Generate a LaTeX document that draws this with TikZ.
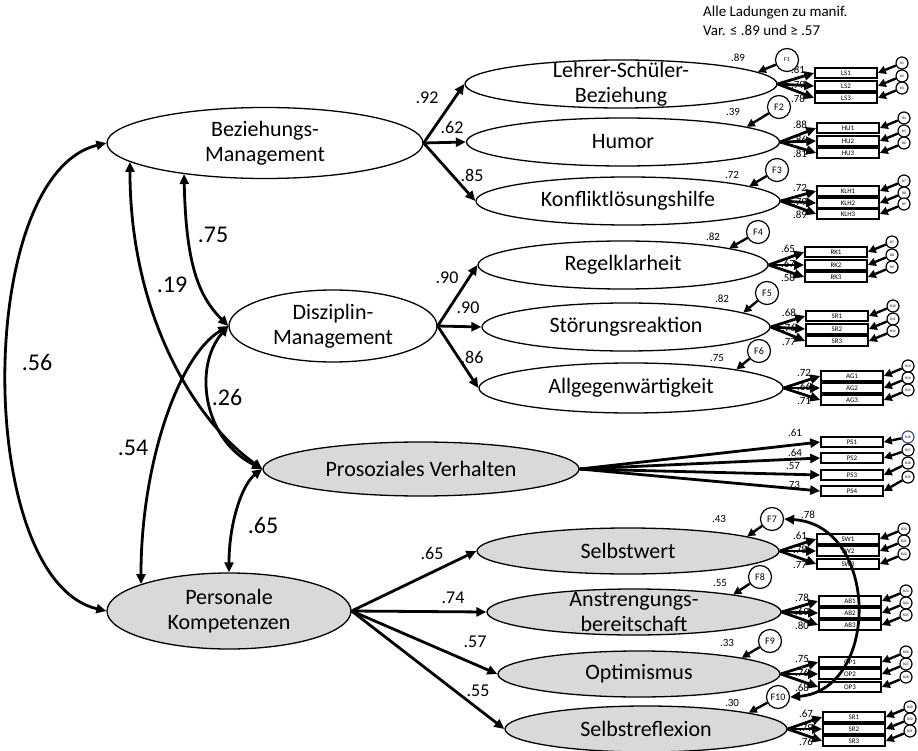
\documentclass[tikz,border=0pt]{standalone}
\usepackage{fontspec}
\setmainfont{Carlito}
\usetikzlibrary{shapes.geometric,arrows.meta}

\definecolor{latfill}{RGB}{217,217,217}
\definecolor{selblue}{RGB}{47,85,151}

\tikzset{
  lat/.style={ellipse,draw,line width=1.3pt,inner sep=0pt},
  lattext/.style={align=center,inner sep=0pt,font=\fontsize{22}{25}\selectfont},
  ind/.style={draw,fill=white,line width=1.6pt,minimum width=62pt,minimum height=10.5pt,inner sep=0pt,font=\fontsize{7}{7}\selectfont},
  res/.style={circle,draw,fill=white,line width=1.2pt,minimum size=12pt,inner sep=0pt,font=\fontsize{3.6}{4}\selectfont},
  dist/.style={circle,draw,fill=white,line width=1.2pt,minimum size=23pt,inner sep=0pt,font=\fontsize{10}{10}\selectfont},
  ld/.style={-{Triangle[length=10pt,width=9pt]},line width=2.8pt},
  cov/.style={{Triangle[length=10pt,width=9pt]}-{Triangle[length=10pt,width=9pt]},line width=2.8pt},
  sm/.style={-{Triangle[length=8pt,width=8pt]},line width=2.4pt},
  corlab/.style={font=\fontsize{24}{24}\selectfont},
  pathlab/.style={font=\fontsize{18}{18}\selectfont},
  loadlab/.style={font=\fontsize{11}{11}\selectfont},
}

\begin{document}
\begin{tikzpicture}[x=1pt,y=-1pt]
  \useasboundingbox (0,0) rectangle (918,751);

  % latente Variablen
  \begin{scope}[every node/.style={lat}]
    \node[minimum width=316pt,minimum height=71pt] (bm) at (265,143) {};
    \node[minimum width=208pt,minimum height=72pt] (dm) at (333,326) {};
    \node[minimum width=312pt,minimum height=48pt] (lsb) at (621,84) {};
    \node[minimum width=313pt,minimum height=48pt] (humor) at (623,142) {};
    \node[minimum width=304pt,minimum height=48pt] (klhilfe) at (628,201) {};
    \node[minimum width=290pt,minimum height=48pt] (regel) at (623,265) {};
    \node[minimum width=288pt,minimum height=48pt] (stoer) at (626,327) {};
    \node[minimum width=304pt,minimum height=50pt] (allg) at (631,388) {};
  \end{scope}

  \begin{scope}[every node/.style={lat,fill=latfill}]
    \node[minimum width=316pt,minimum height=54pt] (pv) at (421,469) {};
    \node[minimum width=244pt,minimum height=76pt] (pk) at (229,611) {};
    \node[minimum width=302pt,minimum height=46pt] (selbstw) at (628,551) {};
    \node[minimum width=294pt,minimum height=46pt] (anstr) at (634,612) {};
    \node[minimum width=282pt,minimum height=46pt] (optim) at (639,674) {};
    \node[minimum width=282pt,minimum height=46pt] (selbstr) at (646,729) {};
  \end{scope}

  \begin{scope}[every node/.style={lattext}]
    \node (bm-t) at (bm) {Beziehungs-\\Management};
    \node (dm-t) at (dm) {Disziplin-\\Management};
    \node (pv-t) at (pv) {Prosoziales Verhalten};
    \node (pk-t) at (pk) {Personale\\Kompetenzen};
    \node (lsb-t) at (lsb) {Lehrer-Schüler-\\Beziehung};
    \node (humor-t) at (humor) {Humor};
    \node (klhilfe-t) at (klhilfe) {Konfliktlösungshilfe};
    \node (regel-t) at (regel) {Regelklarheit};
    \node (stoer-t) at (stoer) {Störungsreaktion};
    \node (allg-t) at (allg) {Allgegenwärtigkeit};
    \node (selbstw-t) at (selbstw) {Selbstwert};
    \node (anstr-t) at (anstr) {Anstrengungs-\\bereitschaft};
    \node (optim-t) at (optim) {Optimismus};
    \node (selbstr-t) at (selbstr) {Selbstreflexion};
  \end{scope}

  \node[anchor=north west,align=left,inner sep=0pt,font=\fontsize{15}{19}\selectfont] (note) at (703,6) {Alle Ladungen zu manif.\\Var. ≤ .89 und ≥ .57};

  % Pfade zweiter Ordnung
  \draw[ld] (bm.east) -- (lsb.west);
  \draw[ld] (bm.east) -- (humor.west);
  \draw[ld] (bm.east) -- (klhilfe.west);
  \draw[ld] (dm.east) -- (regel.west);
  \draw[ld] (dm.east) -- (stoer.west);
  \draw[ld] (dm.east) -- (allg.west);
  \draw[ld] (pk.east) -- (selbstw.west);
  \draw[ld] (pk.east) -- (anstr.west);
  \draw[ld] (pk.east) -- (optim.west);
  \draw[ld] (pk.east) -- (selbstr.west);

  \begin{scope}[every node/.style={pathlab}]
    \node (p1) at (427,98) {.92};
    \node (p2) at (452,127) {.62};
    \node (p3) at (472,175) {.85};
    \node (p4) at (447,278) {.90};
    \node (p5) at (468,308) {.90};
    \node (p6) at (472,357) {.86};
    \node (p7) at (432,553) {.65};
    \node (p8) at (453,598) {.74};
    \node (p9) at (475,642) {.57};
    \node (p10) at (478,691) {.55};
  \end{scope}

  % Korrelationen
  \draw[cov] (bm.west) .. controls (-26,175) and (-26,580) .. (pk.west);
  \draw[cov] (bm.201) .. controls +(2,90) and +(-30,-30) .. (dm.west);
  \draw[cov] (bm.188) .. controls +(0,150) and +(-70,-50) .. (pv.west);
  \draw[cov] (dm.west) .. controls +(-35,40) and +(-60,-30) .. (pv.west);
  \draw[cov] (dm.west) .. controls +(-50,30) and +(0,-120) .. (pk.163);
  \draw[cov] (pv.west) .. controls +(-20,15) and +(0,-50) .. (pk.north);

  \begin{scope}[every node/.style={corlab}]
    \node (c1) at (37,362) {.56};
    \node (c2) at (213,235) {.75};
    \node (c3) at (172,285) {.19};
    \node (c4) at (227,397) {.26};
    \node (c5) at (133,448) {.54};
    \node (c6) at (263,525) {.65};
  \end{scope}

  % manifeste Variablen
  \foreach \grp/\txt/\lat/\bx/\ya/\yb/\yc/\rn/\ka/\kb/\kc in {
      ls/LS/lsb/815/73/86/98/1/.81/.79/.78,
      hu/HU/humor/817/128/141/153/4/.88/.86/.81,
      klh/KLH/klhilfe/817/191/203/214/7/.72/.79/.89,
      rk/RK/regel/805/252/265/277/7/.65/.67/.58,
      sr/SR/stoer/806/316/329/341/10/.68/.76/.77,
      ag/AG/allg/821/376/388/400/13/.72/.66/.71,
      sw/SW/selbstw/817/539/551/564/20/.61/.78/.77,
      ab/AB/anstr/819/601/613/625/23/.78/.69/.80,
      op/OP/optim/819/662/674/687/26/.75/.76/.68,
      sf/SR/selbstr/823/717/729/741/29/.67/.79/.76}{
    \pgfmathtruncatemacro{\rnb}{\rn+1}
    \pgfmathtruncatemacro{\rnc}{\rn+2}
    \node[loadlab] (\grp-k1) at (\bx-17,\ya-3) {\ka};
    \node[loadlab] (\grp-k2) at (\bx-17,\yb-1) {\kb};
    \node[loadlab] (\grp-k3) at (\bx-17,\yc+1) {\kc};
    \node[ind] (\grp1) at (\bx+31,\ya) {\txt1};
    \node[ind] (\grp2) at (\bx+31,\yb) {\txt2};
    \node[ind] (\grp3) at (\bx+31,\yc) {\txt3};
    \node[res] (\grp-r1) at (\bx+87,\ya-10) {R\rn};
    \node[res] (\grp-r2) at (\bx+87,\yb-10) {R\rnb};
    \node[res] (\grp-r3) at (\bx+87,\yc-10) {R\rnc};
    \draw[ld] (\lat.east) -- (\grp1.west);
    \draw[ld] (\lat.east) -- (\grp2.west);
    \draw[ld] (\lat.east) -- (\grp3.west);
    \draw[sm] (\grp-r1) -- (\grp1.east);
    \draw[sm] (\grp-r2) -- (\grp2.east);
    \draw[sm] (\grp-r3) -- (\grp3.east);
  }

  % Prosoziales Verhalten
  \node[loadlab] (ps-k1) at (795,433) {.61};
  \node[loadlab] (ps-k2) at (795,453) {.64};
  \node[loadlab] (ps-k3) at (793,466) {.57};
  \node[loadlab] (ps-k4) at (793,485) {.73};
  \node[ind] (ps1) at (852,442) {PS1};
  \node[ind] (ps2) at (852,458) {PS2};
  \node[ind] (ps3) at (852,475) {PS3};
  \node[ind] (ps4) at (852,491) {PS4};
  \node[res,draw=selblue] (ps-r1) at (908,437) {R16};
  \node[res] (ps-r2) at (908,450) {R17};
  \node[res] (ps-r3) at (908,463) {R18};
  \node[res] (ps-r4) at (908,477) {R19};
  \draw[ld] (pv.east) -- (ps1.west);
  \draw[ld] (pv.east) -- (ps2.west);
  \draw[ld] (pv.east) -- (ps3.west);
  \draw[ld] (pv.east) -- (ps4.west);
  \draw[sm] (ps-r1) -- (ps1.east);
  \draw[sm] (ps-r2) -- (ps2.east);
  \draw[sm] (ps-r3) -- (ps3.east);
  \draw[sm] (ps-r4) -- (ps4.east);

  % Residuen der Faktoren
  \begin{scope}[every node/.style={dist}]
    \node[font=\fontsize{6}{6}\selectfont] (f1) at (787,60) {F1};
    \node (f2) at (779,107) {F2};
    \node (f3) at (777,170) {F3};
    \node (f4) at (758,232) {F4};
    \node (f5) at (767,293) {F5};
    \node (f6) at (759,351) {F6};
    \node (f7) at (772,519) {F7};
    \node (f8) at (760,577) {F8};
    \node (f9) at (770,641) {F9};
    \node (f10) at (778,697) {F10};
  \end{scope}

  \draw[sm] (f1) -- (lsb.5);
  \draw[sm] (f2) -- (humor.7);
  \draw[sm] (f3) -- (klhilfe.7);
  \draw[sm] (f4) -- (regel.9);
  \draw[sm] (f5) -- (stoer.7);
  \draw[sm] (f6) -- (allg.10);
  \draw[sm] (f7) -- (selbstw.7);
  \draw[sm] (f8) -- (anstr.10);
  \draw[sm] (f9) -- (optim.9);
  \draw[sm] (f10) -- (selbstr.9);

  \begin{scope}[every node/.style={loadlab}]
    \node (v1) at (738,58) {.89};
    \node (v2) at (733,112) {.39};
    \node (v3) at (732,175) {.72};
    \node (v4) at (713,237) {.82};
    \node (v5) at (722,299) {.82};
    \node (v6) at (717,358) {.75};
    \node (v7) at (719,519) {.43};
    \node (v8) at (720,583) {.55};
    \node (v9) at (727,643) {.33};
    \node (v10) at (732,703) {.30};
    \node (v11) at (808,515) {.78};
  \end{scope}

  \draw[cov] (f7.east) .. controls (880,525) and (880,690) .. (f10.east);

\end{tikzpicture}
\end{document}
